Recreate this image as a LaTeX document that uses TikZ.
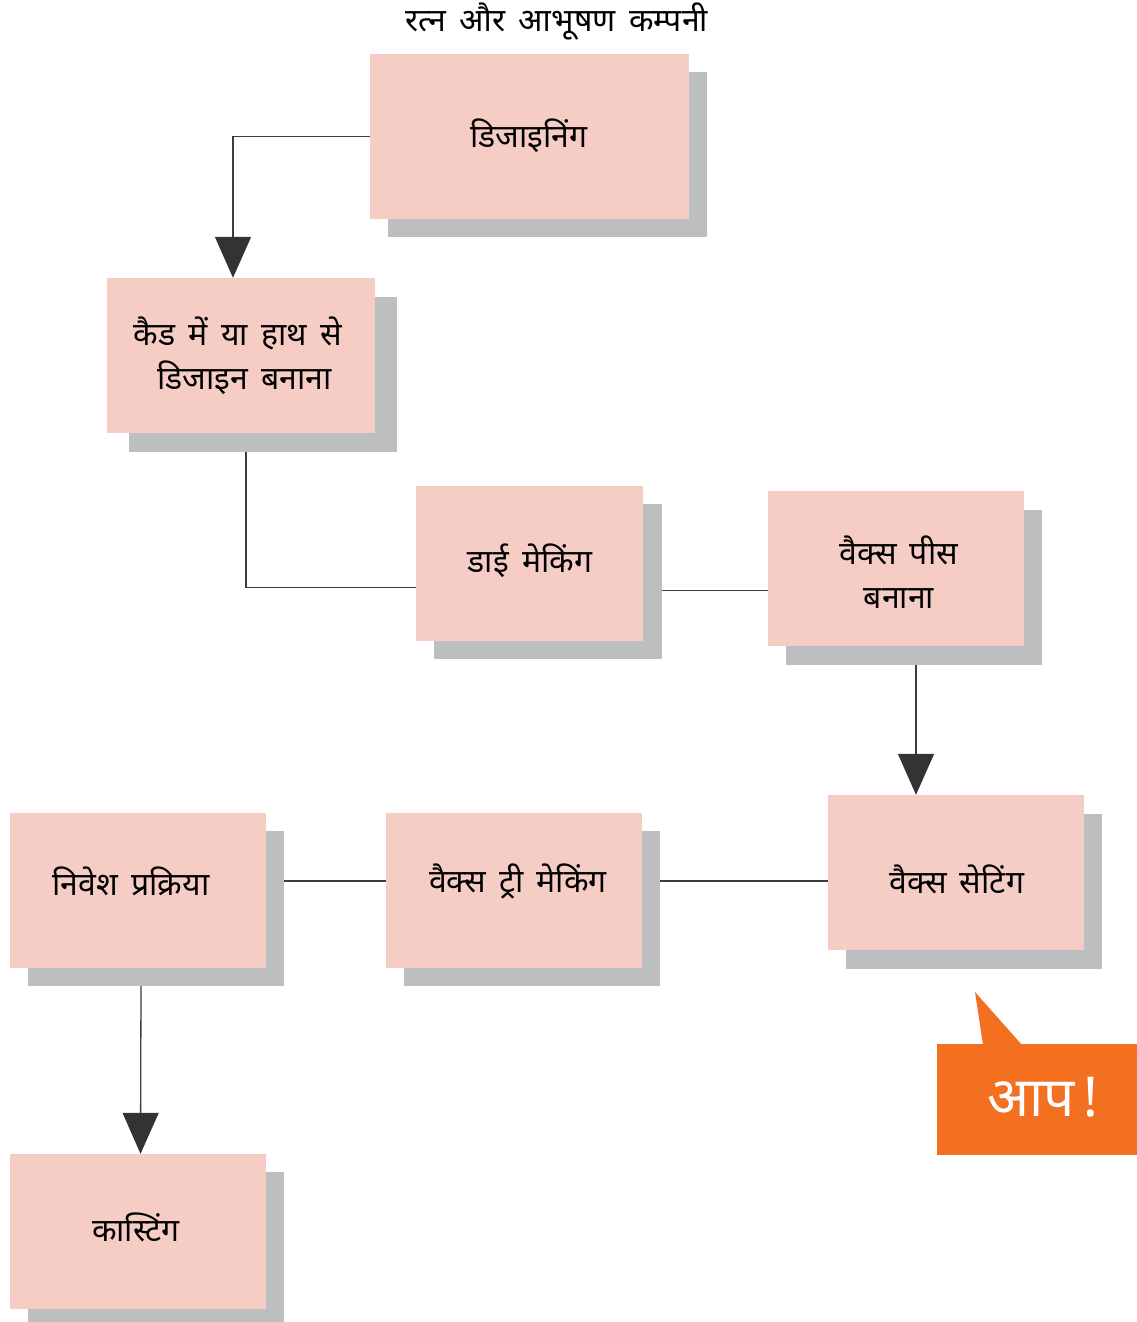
\documentclass[tikz,border=0pt]{standalone}
\usepackage{fontspec}
\newfontfamily\dev[Script=Devanagari, WordSpace=1.6]{Noto Sans}
\usetikzlibrary{arrows.meta,calc}
\definecolor{boxpink}{HTML}{F5CDC4}
\definecolor{shadegray}{HTML}{BDBEC0}
\definecolor{linegray}{HTML}{3C3C3C}
\definecolor{arrowgray}{HTML}{333333}
\definecolor{calloutorange}{HTML}{F37021}
\tikzset{
  pinkbox/.style={fill=boxpink, inner sep=0pt, minimum width=#1},
  shadebox/.style={fill=shadegray, inner sep=0pt, minimum width=#1},
  boxtext/.style={font=\dev\fontsize{32}{44}\selectfont, align=center, inner sep=0pt, text=black},
  conn/.style={draw=linegray, line width=1.3pt},
  arrowconn/.style={conn, -{Triangle[length=41pt,width=36pt,color=arrowgray]}},
}
\begin{document}
\begin{tikzpicture}[x=1pt,y=-1pt]
\useasboundingbox (0,0) rectangle (1137,1322);
% title
\node[boxtext] (title) at (557,22) {रत्न और आभूषण कम्पनी};
% shadows
\node[shadebox=319pt, minimum height=165pt] (s1) at (547.5,154.5) {};
\node[shadebox=268pt, minimum height=155pt] (s2) at (263,374.5) {};
\node[shadebox=228pt, minimum height=155pt] (s3) at (548,581.5) {};
\node[shadebox=256pt, minimum height=155pt] (s4) at (914,587.5) {};
\node[shadebox=256pt, minimum height=155pt] (s5) at (974,891.5) {};
\node[shadebox=256pt, minimum height=155pt] (s6) at (532,908.5) {};
\node[shadebox=256pt, minimum height=155pt] (s7) at (156,908.5) {};
\node[shadebox=256pt, minimum height=155pt] (s8) at (156,1249.5) {};
% boxes
\node[pinkbox=319pt, minimum height=165pt] (b1) at (529.5,136.5) {};
\node[pinkbox=268pt, minimum height=155pt] (b2) at (241,355.5) {};
\node[pinkbox=227pt, minimum height=155pt] (b3) at (529.5,563.5) {};
\node[pinkbox=256pt, minimum height=155pt] (b4) at (896,568.5) {};
\node[pinkbox=256pt, minimum height=155pt] (b5) at (956,872.5) {};
\node[pinkbox=256pt, minimum height=155pt] (b6) at (514,890.5) {};
\node[pinkbox=256pt, minimum height=155pt] (b7) at (138,890.5) {};
\node[pinkbox=256pt, minimum height=155pt] (b8) at (138,1231.5) {};
% texts
\node[boxtext] (t1) at (529,136) {डिजाइनिंग};
\node[boxtext] (t2) at (238,356) {कैड में या हाथ से\\\ डिजाइन बनाना};
\node[boxtext] (t3) at (530,561) {डाई मेकिंग};
\node[boxtext] (t4) at (899,572) {वैक्स पीस\\बनाना};
\node[boxtext] (t5) at (957,879) {वैक्स सेटिंग};
\node[boxtext] (t6) at (518,881) {वैक्स ट्री मेकिंग};
\node[boxtext] (t7) at (131,881) {निवेश प्रक्रिया};
\node[boxtext] (t8) at (136,1227) {कास्टिंग};
% connectors
\draw[arrowconn] (b1.west) -| ($(b2.north)+(-8,0)$);
\draw[conn] ($(s2.south)+(-17,0)$) |- ($(b3.west)+(0,24)$);
\draw[conn] ($(s3.east)+(0,9)$) -- ($(b4.west)+(0,22)$);
\draw[arrowconn] ($(s4.south)+(2,0)$) -- ($(s4.south |- b5.north)+(2,0)$);
\draw[conn] ($(b5.west)+(0,8.5)$) -- ($(s6.east)+(0,-27.5)$);
\draw[conn] ($(b6.west)+(0,-9.5)$) -- ($(s7.east)+(0,-27.5)$);
\draw[arrowconn] ($(s7.south)+(-15,0)$) -- ($(b8.north)+(2.5,0)$);
% callout
\fill[calloutorange] (937,1044) rectangle (1137,1155);
\fill[calloutorange] (975,992) -- (983,1045) -- (1022,1045) -- cycle;
\node[font=\dev\fontsize{55}{60}\selectfont, text=white, inner sep=0pt] (aap) at (1043,1097) {आप\,!};
\end{tikzpicture}
\end{document}
